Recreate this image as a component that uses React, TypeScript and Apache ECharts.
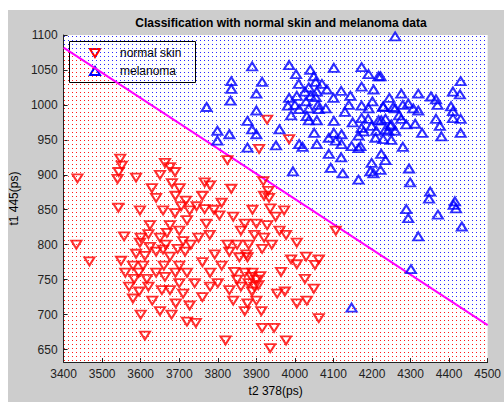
import React, { useEffect, useRef } from "react";
import * as echarts from "echarts";

const xTicks = [3400, 3500, 3600, 3700, 3800, 3900, 4000, 4100, 4200, 4300, 4400, 4500];
const yTicks = [650, 700, 750, 800, 850, 900, 950, 1000, 1050, 1100];
const xRange = [3400, 4500];
const yRange = [632, 1100];
const boundary = [
  [3400, 1082],
  [4500, 685],
];

const normalSkin = [
  [3436, 895], [3433, 800], [3467, 776], [3542, 853], [3547, 923], [3551, 913], [3543, 904], [3540, 894],
  [3557, 812], [3549, 777], [3560, 760], [3570, 740], [3583, 751], [3588, 787], [3598, 803], [3606, 770],
  [3580, 723], [3596, 733], [3616, 751], [3624, 797], [3611, 784], [3624, 828], [3588, 896], [3598, 849],
  [3629, 881], [3640, 867], [3650, 900], [3658, 849], [3668, 817], [3663, 917], [3676, 911], [3689, 904],
  [3681, 888], [3701, 881], [3717, 863], [3727, 849], [3689, 845], [3676, 828], [3650, 810], [3658, 793],
  [3676, 783], [3696, 794], [3663, 754], [3676, 735], [3650, 705], [3691, 716], [3727, 713], [3611, 670],
  [3743, 688], [3766, 889], [3766, 851], [3779, 814], [3792, 786], [3804, 842], [3825, 800], [3835, 880],
  [3843, 761], [3856, 782], [3874, 786], [3887, 754], [3889, 733], [3877, 716], [3877, 782], [3895, 814],
  [3915, 794], [3928, 828], [3933, 867], [3936, 852], [3931, 877], [3918, 891], [3972, 849], [3977, 814],
  [3964, 761], [3990, 779], [4005, 772], [4005, 803], [4029, 783], [4026, 751], [4062, 779], [4049, 737],
  [4031, 720], [4062, 695], [4005, 716], [3974, 733], [3954, 730], [3913, 705], [3915, 681], [3946, 681],
  [3820, 663], [3936, 652], [3977, 663], [3928, 979], [3907, 937], [3985, 951], [3825, 921], [4106, 820],
  [4052, 771], [3700, 770], [3720, 760], [3740, 745], [3760, 775], [3780, 760], [3800, 745], [3810, 770],
  [3830, 735], [3850, 750], [3860, 740], [3870, 760], [3880, 745], [3890, 760], [3900, 750], [3905, 742],
  [3895, 740], [3910, 755], [3700, 745], [3715, 790], [3730, 800], [3750, 810], [3770, 830], [3790, 850],
  [3810, 860], [3840, 840], [3860, 820], [3880, 800], [3900, 830], [3920, 810], [3940, 800], [3960, 820],
  [3620, 740], [3640, 760], [3660, 770], [3630, 720], [3655, 735], [3690, 760], [3710, 730], [3600, 810],
  [3620, 815], [3580, 770], [3595, 760], [3700, 820], [3720, 835], [3745, 855], [3760, 870], [3780, 885],
  [3690, 870], [3705, 855], [3640, 790], [3665, 800], [3710, 805], [3830, 790], [3850, 800], [3870, 830],
  [3890, 850], [3920, 870], [3950, 840], [3900, 720], [3870, 705], [3840, 720], [3780, 740], [3760, 725],
  [3680, 700], [3720, 690], [3600, 700],
];

const melanoma = [
  [3889, 1055], [3985, 1057], [3835, 1034], [3835, 1023], [3833, 1006], [3915, 1033], [4003, 1044], [4049, 1041],
  [4054, 1033], [4036, 1025], [4026, 1019], [4005, 1013], [3982, 999], [4101, 1053], [4173, 1054], [4191, 1044],
  [4217, 1041], [4173, 1026], [4204, 1022], [4083, 1022], [4057, 1019], [4054, 1011], [4041, 1013], [4029, 1005],
  [4011, 994], [4036, 995], [4062, 994], [4031, 984], [4036, 978], [4057, 978], [4101, 977], [3900, 1016],
  [3900, 992], [3771, 997], [3877, 977], [3889, 965], [3900, 958], [3799, 963], [3830, 958], [3799, 949],
  [3877, 939], [3951, 942], [4011, 944], [4057, 944], [4088, 953], [4101, 960], [4121, 958], [4106, 949],
  [4121, 944], [4147, 941], [4170, 941], [4088, 930], [4124, 902], [4199, 917], [4224, 930], [4235, 921],
  [4204, 902], [4144, 1013], [4173, 999], [4191, 995], [4201, 1005], [4229, 997], [4260, 995], [4173, 981],
  [4217, 978], [4235, 980], [4173, 967], [4199, 970], [4211, 963], [4235, 965], [4248, 970], [4260, 963],
  [4209, 953], [4229, 951], [4165, 956], [4178, 962], [4260, 1098], [4222, 1041], [4430, 1034], [4410, 1019],
  [4428, 1015], [4276, 1016], [4320, 1016], [4353, 1012], [4366, 1008], [4294, 1002], [4229, 998], [4255, 997],
  [4307, 995], [4320, 992], [4405, 998], [4410, 991], [4410, 981], [4430, 980], [4276, 980], [4366, 980],
  [4376, 970], [4312, 973], [4289, 972], [4250, 972], [4224, 978], [4242, 963], [4296, 909], [4299, 889],
  [4351, 876], [4348, 866], [4289, 851], [4294, 838], [4371, 843], [4320, 812], [4415, 862], [4412, 857],
  [4418, 852], [4433, 826], [4301, 765], [4147, 710], [4093, 910], [4165, 893], [4196, 905], [4222, 907],
  [4165, 938], [4120, 925], [4050, 960], [4020, 940], [3990, 985], [3960, 965], [4080, 995], [4100, 1010],
  [4120, 1020], [4140, 1000], [4190, 980], [4250, 950], [4280, 940], [4330, 960], [4380, 955], [4430, 960],
  [4370, 1000], [4280, 1000], [4245, 1010], [4270, 985], [4150, 975], [4130, 990], [4070, 1030], [4000, 1000],
  [4010, 1030], [4040, 1050], [4060, 1000], [3985, 1010], [3995, 905],
];

function dotPattern(color: string) {
  const c = document.createElement("canvas");
  c.width = 4;
  c.height = 4;
  const ctx = c.getContext("2d")!;
  ctx.fillStyle = color;
  ctx.fillRect(0, 0, 1, 1);
  return { image: c.toDataURL(), repeat: "repeat", imageWidth: 4, imageHeight: 4 };
}

export default function App() {
  const ref = useRef<HTMLDivElement>(null);
  useEffect(() => {
    const chart = echarts.init(ref.current!, null, { renderer: "svg" });
    const redPoly = [
      [xRange[0], yRange[0]],
      boundary[0],
      boundary[1],
      [xRange[1], yRange[0]],
    ];
    const bluePoly = [
      boundary[0],
      [xRange[0], yRange[1]],
      [xRange[1], yRange[1]],
      boundary[1],
    ];
    const polys = [redPoly, bluePoly];
    const fills = [dotPattern("#ff1a1a"), dotPattern("#2a2aff")];
    const font = "'Liberation Sans', Arial, sans-serif";
    chart.setOption({
      animation: false,
      backgroundColor: "#ffffff",
      title: {
        text: "Classification with normal skin and melanoma data",
        left: 276,
        textAlign: "center",
        top: 12,
        textStyle: { fontFamily: font, fontSize: 12, fontWeight: "bold", color: "#000" },
      },
      graphic: [
        {
          type: "rect",
          z: -10,
          silent: true,
          shape: { x: 8, y: 10, width: 496, height: 392 },
          style: { fill: "#cdcdcd" },
        },
        {
          type: "group",
          z: 100,
          children: [
            {
              type: "rect",
              shape: { x: 69.5, y: 41.5, width: 126, height: 41 },
              style: { fill: "#fff", stroke: "#000", lineWidth: 1 },
            },
            {
              type: "polygon",
              shape: { points: [[90, 49], [100, 49], [95, 57]] },
              style: { fill: "none", stroke: "#ff0000", lineWidth: 2 },
            },
            {
              type: "polygon",
              shape: { points: [[90, 75], [100, 75], [95, 67]] },
              style: { fill: "none", stroke: "#0000ff", lineWidth: 2 },
            },
            {
              type: "text",
              style: { x: 120, y: 53, text: "normal skin", fill: "#000", font: `12px ${font}`, verticalAlign: "middle" },
            },
            {
              type: "text",
              style: { x: 120, y: 71, text: "melanoma", fill: "#000", font: `12px ${font}`, verticalAlign: "middle" },
            },
          ],
        },
      ],
      grid: {
        left: 63,
        right: 14,
        top: 35,
        bottom: 32,
        show: true,
        backgroundColor: "#ffffff",
        borderWidth: 0,
      },
      xAxis: {
        type: "value",
        min: xRange[0],
        max: xRange[1],
        interval: 100,
        name: "t2 378(ps)",
        nameLocation: "middle",
        nameGap: 22,
        nameTextStyle: { fontFamily: font, fontSize: 12, color: "#000" },
        axisLine: { show: true, lineStyle: { color: "#222", width: 1 } },
        axisTick: { show: true, inside: true, length: 4, lineStyle: { color: "#222" }, customValues: xTicks },
        axisLabel: {
          fontFamily: font,
          fontSize: 12,
          color: "#222",
          margin: 6,
          customValues: xTicks,
          formatter: (v: number) => String(v),
        },
        splitLine: { show: false },
      },
      yAxis: {
        type: "value",
        min: yRange[0],
        max: yRange[1],
        name: "t1 445(ps)",
        nameLocation: "middle",
        nameGap: 34,
        nameTextStyle: { fontFamily: font, fontSize: 12, color: "#000" },
        axisLine: { show: true, lineStyle: { color: "#222", width: 1 } },
        axisTick: { show: true, inside: true, length: 4, lineStyle: { color: "#222" }, customValues: yTicks },
        axisLabel: {
          fontFamily: font,
          fontSize: 12,
          color: "#222",
          margin: 6,
          customValues: yTicks,
          formatter: (v: number) => String(v),
        },
        splitLine: { show: false },
      },
      series: [
        {
          type: "custom",
          z: 1,
          silent: true,
          clip: true,
          data: [
            [xRange[0], yRange[0]],
            [xRange[0], yRange[1]],
          ],
          renderItem: (params: any, api: any) => {
            const poly = polys[params.dataIndex];
            return {
              type: "polygon",
              shape: { points: poly.map((p) => api.coord(p)) },
              style: { fill: fills[params.dataIndex], stroke: null },
            };
          },
        },
        {
          type: "line",
          z: 2,
          data: boundary,
          symbol: "none",
          lineStyle: { color: "#ff00ff", width: 2 },
          silent: true,
        },
        {
          name: "normal skin",
          type: "scatter",
          z: 3,
          data: normalSkin,
          symbol: "triangle",
          symbolRotate: 180,
          symbolSize: [10, 8],
          itemStyle: { color: "rgba(0,0,0,0)", borderColor: "#ff0000", borderWidth: 2 },
        },
        {
          name: "melanoma",
          type: "scatter",
          z: 3,
          data: melanoma,
          symbol: "triangle",
          symbolSize: [10, 8],
          itemStyle: { color: "rgba(0,0,0,0)", borderColor: "#0000ff", borderWidth: 2 },
        },
      ],
    });
    return () => chart.dispose();
  }, []);
  return (
    <div
      ref={ref}
      style={{ position: "fixed", left: 0, top: 0, width: 504, height: 402 }}
    />
  );
}
